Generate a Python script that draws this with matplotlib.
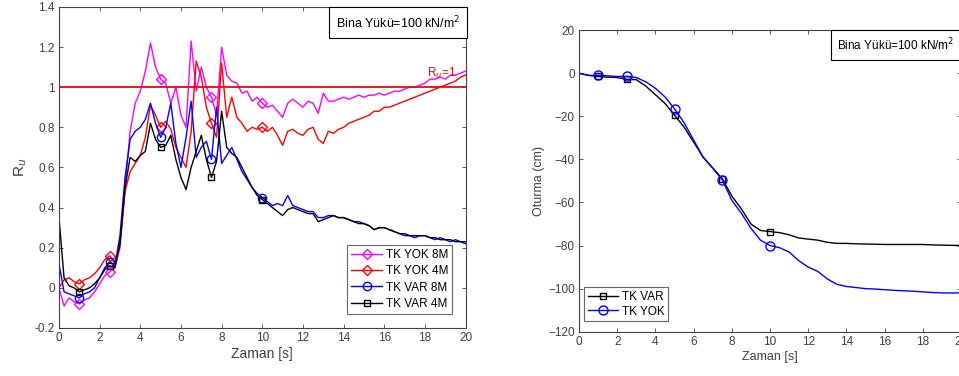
import matplotlib
matplotlib.use("Agg")
import matplotlib.pyplot as plt
import numpy as np

plt.rcParams['font.family'] = ['Liberation Sans', 'DejaVu Sans']

# --- sol grafik: Ru - zaman ---
t_ru = np.arange(0, 20.01, 0.25)
yok_8m = [0.0, -0.09, -0.05, -0.07, -0.08, -0.06, -0.05, -0.02, 0.02, 0.06, 0.08, 0.1,
          0.2, 0.5, 0.78, 0.92, 0.98, 1.08, 1.22, 1.1, 1.04, 1.02, 0.92, 1.0, 0.86, 0.8,
          1.23, 0.98, 1.1, 1.0, 0.95, 0.86, 1.2, 1.06, 1.03, 1.02, 0.97, 0.98, 0.93, 0.95,
          0.92, 0.9, 0.91, 0.88, 0.85, 0.92, 0.94, 0.92, 0.9, 0.93, 0.92, 0.87, 0.97, 0.93,
          0.93, 0.94, 0.95, 0.94, 0.95, 0.96, 0.95, 0.96, 0.96, 0.97, 0.96, 0.97, 0.98, 0.98,
          0.99, 1.0, 1.0, 1.01, 1.02, 1.04, 1.04, 1.05, 1.04, 1.06, 1.06, 1.07, 1.08]
yok_4m = [0.0, 0.04, 0.05, 0.03, 0.02, 0.04, 0.05, 0.07, 0.1, 0.14, 0.16, 0.12,
          0.22, 0.48, 0.58, 0.62, 0.66, 0.75, 0.91, 0.86, 0.8, 0.83, 0.79, 0.7, 0.65, 0.6,
          0.78, 1.13, 1.05, 0.9, 0.82, 0.75, 1.12, 0.85, 0.95, 0.85, 0.82, 0.78, 0.8, 0.79,
          0.8, 0.78, 0.8, 0.76, 0.71, 0.78, 0.79, 0.77, 0.76, 0.79, 0.8, 0.74, 0.72, 0.78,
          0.77, 0.79, 0.8, 0.82, 0.83, 0.84, 0.85, 0.86, 0.88, 0.88, 0.9, 0.9, 0.91, 0.92,
          0.93, 0.94, 0.95, 0.96, 0.97, 0.98, 0.99, 1.0, 1.01, 1.02, 1.03, 1.05, 1.06]
var_8m = [0.12, -0.02, -0.03, -0.04, -0.05, -0.03, -0.02, 0.0, 0.05, 0.1, 0.13, 0.11,
          0.26, 0.55, 0.74, 0.78, 0.8, 0.84, 0.92, 0.82, 0.75, 0.8, 0.92, 0.72, 0.6, 0.75,
          0.93, 0.65, 0.7, 0.73, 0.64, 0.9, 0.62, 0.66, 0.7, 0.64, 0.58, 0.54, 0.5, 0.47,
          0.45, 0.43, 0.41, 0.42, 0.41, 0.46, 0.41, 0.4, 0.39, 0.38, 0.38, 0.35, 0.35, 0.36,
          0.36, 0.35, 0.35, 0.34, 0.33, 0.33, 0.32, 0.31, 0.29, 0.3, 0.3, 0.29, 0.28, 0.27,
          0.26, 0.26, 0.25, 0.26, 0.26, 0.25, 0.24, 0.25, 0.24, 0.23, 0.24, 0.23, 0.22]
var_4m = [0.35, 0.05, 0.01, 0.0, -0.02, -0.01, 0.0, 0.02, 0.05, 0.09, 0.11, 0.1,
          0.22, 0.5, 0.65, 0.63, 0.66, 0.68, 0.82, 0.74, 0.7, 0.71, 0.76, 0.64, 0.55, 0.49,
          0.6, 0.68, 0.76, 0.64, 0.55, 0.63, 0.88, 0.7, 0.67, 0.65, 0.6, 0.55, 0.5, 0.46,
          0.44, 0.42, 0.4, 0.38, 0.36, 0.39, 0.4, 0.39, 0.38, 0.37, 0.37, 0.33, 0.34, 0.35,
          0.36, 0.35, 0.35, 0.34, 0.33, 0.32, 0.32, 0.31, 0.29, 0.3, 0.3, 0.29, 0.28, 0.27,
          0.27, 0.26, 0.26, 0.26, 0.26, 0.25, 0.25, 0.24, 0.24, 0.24, 0.23, 0.23, 0.23]

# --- sag grafik: oturma - zaman ---
t_ot = np.arange(0, 20.01, 0.5)
ot_var = [0, -1, -1.5, -1.8, -2, -2.8, -3, -6, -10, -14, -19.5, -25, -32, -39, -44, -49,
          -57, -63, -70, -73, -73.5, -74, -75, -76.5, -77, -77.5, -78.5, -79, -79, -79.2,
          -79.3, -79.4, -79.5, -79.5, -79.5, -79.5, -79.5, -79.7, -79.8, -79.9, -80]
ot_yok = [0, -1, -1, -1.2, -1.5, -1.5, -2, -4, -7, -11, -16.5, -23, -31, -39, -44, -49.5,
          -59, -65, -72, -77.5, -80, -81, -83, -87, -90, -92, -95.5, -98, -99, -99.5,
          -100, -100.2, -100.5, -100.8, -101, -101.2, -101.5, -101.8, -102, -102, -102]

mark_t = [1, 2.5, 5, 7.5, 10]
gray = '#404040'

fig = plt.figure(figsize=(9.59, 3.76), dpi=100)
ax1 = fig.add_axes([0.0615, 0.1277, 0.424, 0.854])
ax2 = fig.add_axes([0.6038, 0.1178, 0.3983, 0.802])

idx1 = [int(np.argmin(np.abs(t_ru - m))) for m in mark_t]
ax1.plot(t_ru, yok_8m, color='#ff00ff', lw=1, marker='D', ms=5, mfc='none', markevery=idx1, label='TK YOK 8M')
ax1.plot(t_ru, yok_4m, color='red', lw=1, marker='D', ms=5, mfc='none', markevery=idx1, label='TK YOK 4M')
ax1.plot(t_ru, var_8m, color='blue', lw=1, marker='o', ms=6, mfc='none', markevery=idx1, label='TK VAR 8M')
ax1.plot(t_ru, var_4m, color='black', lw=1, marker='s', ms=4.5, mfc='none', markevery=idx1, label='TK VAR 4M')
ax1.axhline(1, color='red', lw=1.3)
ax1.text(18.1, 1.03, 'R$_u$=1', color='red', fontsize=8.5, ha='left', va='bottom')
ax1.set_xlim(0, 20)
ax1.set_ylim(-0.2, 1.4)
ax1.set_xticks(np.arange(0, 21, 2))
ax1.set_yticks(np.arange(-0.2, 1.41, 0.2))
ax1.set_yticklabels(['-0.2', '0', '0.2', '0.4', '0.6', '0.8', '1', '1.2', '1.4'])
ax1.set_xlabel('Zaman [s]', fontsize=10, color=gray, labelpad=2)
ax1.set_ylabel('R$_u$', fontsize=11, color=gray, labelpad=4)
leg1 = ax1.legend(loc='lower right', bbox_to_anchor=(0.967, 0.044), fontsize=8.5, frameon=True,
                  fancybox=False, edgecolor=gray, handlelength=2.6, borderpad=0.35,
                  labelspacing=0.35, handletextpad=0.3, borderaxespad=0.0)
leg1.get_frame().set_linewidth(0.8)

idx2 = [int(np.argmin(np.abs(t_ot - m))) for m in mark_t]
ax2.plot(t_ot, ot_var, color='black', lw=1, marker='s', ms=5, mfc='none', markevery=idx2, label='TK VAR')
ax2.plot(t_ot, ot_yok, color='blue', lw=1, marker='o', ms=6.5, mfc='none', markevery=idx2, label='TK YOK')
ax2.set_xlim(0, 20)
ax2.set_ylim(-120, 20)
ax2.set_xticks(np.arange(0, 21, 2))
ax2.set_yticks(np.arange(-120, 21, 20))
ax2.set_xlabel('Zaman [s]', fontsize=9, color=gray, labelpad=2)
ax2.set_ylabel('Oturma (cm)', fontsize=9, color=gray, labelpad=2)
leg2 = ax2.legend(loc='lower left', bbox_to_anchor=(0.013, 0.035), fontsize=8.5, frameon=True,
                  fancybox=False, edgecolor=gray, handlelength=2.6, borderpad=0.3,
                  labelspacing=0.25, handletextpad=0.3, borderaxespad=0.0)
leg2.get_frame().set_linewidth(0.8)

for ax in (ax1, ax2):
    for s in ax.spines.values():
        s.set_color(gray)
        s.set_linewidth(0.8)
    ax.tick_params(direction='in', top=True, right=True, length=3, width=0.6,
                   colors=gray, labelsize=8.5, pad=3)

fig.text(0.415, 0.940, 'Bina Yükü=100 kN/m$^2$', fontsize=9, va='center', ha='center',
         bbox=dict(boxstyle='square,pad=0.55', fc='white', ec='black', lw=0.8))
fig.text(0.873, 0.880, 'Bina Yükü=100 kN/m$^2$', fontsize=8.5, va='center', ha='left',
         bbox=dict(boxstyle='square,pad=0.55', fc='white', ec='black', lw=0.8))

fig.savefig('out.png', dpi=100)
